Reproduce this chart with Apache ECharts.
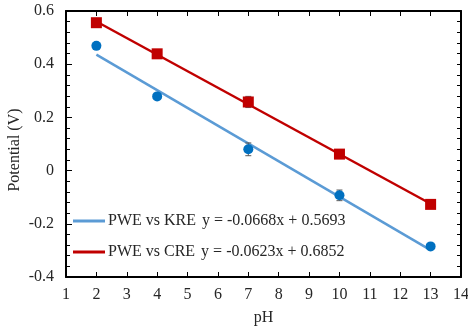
<!DOCTYPE html>
<html><head><meta charset="utf-8">
<script src="https://cdn.jsdelivr.net/npm/echarts@6/dist/echarts.min.js"></script>
<style>html,body{margin:0;padding:0;background:#fff}#c{width:468px;height:335px}</style>
</head><body><div id="c"></div>
<script>
const pH = [2, 4, 7, 10, 13];
const kreValues = [0.469, 0.279, 0.080, -0.093, -0.285];
const kreErrors = [0.005, 0.006, 0.024, 0.020, 0.006];
const creValues = [0.556, 0.439, 0.258, 0.062, -0.127];
const creErrors = [0.006, 0.006, 0.021, 0.008, 0.006];
const seriesNames = ['PWE vs KRE', 'PWE vs CRE'];
const equations = ['y = -0.0668x + 0.5693', 'y = -0.0623x + 0.6852'];
const slopes = [-0.0668, -0.0623];
const intercepts = [0.5693, 0.6852];
const xTicks = [1,2,3,4,5,6,7,8,9,10,11,12,13,14];
const yTicks = [-0.4,-0.2,0,0.2,0.4,0.6];
const yTitle = 'Potential (V)';
const xTitle = 'pH';

const FONT = '"Liberation Serif", "Times New Roman", serif';
const trend = (i) => [pH[0], pH[pH.length-1]].map(x => [x, slopes[i]*x + intercepts[i]]);
const pts = (vals) => pH.map((x,i)=>[x, vals[i]]);
const errData = (vals, errs) => pH.map((x,i)=>[x, vals[i]-errs[i], vals[i]+errs[i]]);

function errRender(params, api){
  const x = api.value(0), lo = api.value(1), hi = api.value(2);
  const p1 = api.coord([x, hi]), p2 = api.coord([x, lo]);
  const w = 3;
  const style = {stroke:'#595959', lineWidth:1};
  return {type:'group', children:[
    {type:'line', shape:{x1:p1[0],y1:p1[1],x2:p2[0],y2:p2[1]}, style},
    {type:'line', shape:{x1:p1[0]-w,y1:p1[1],x2:p1[0]+w,y2:p1[1]}, style},
    {type:'line', shape:{x1:p2[0]-w,y1:p2[1],x2:p2[0]+w,y2:p2[1]}, style}
  ]};
}

const axisLine = {show:true, onZero:false, lineStyle:{color:'#000', width:2}};
const chart = echarts.init(document.getElementById('c'));
chart.setOption({
  animation:false,
  backgroundColor:'#fff',
  grid:{left:66, right:7, top:11, bottom:58, containLabel:false, outerBoundsMode:'none'},
  graphic:[{type:'text', x:15, y:150, rotation:Math.PI/2,
    style:{text:yTitle, font:'16px ' + FONT, fill:'#262626', align:'center', verticalAlign:'middle'}}],
  legend:{
    left:73, top:213, orient:'vertical', itemGap:15, padding:0,
    itemWidth:32, itemHeight:3, icon:'rect',
    data:seriesNames,
    formatter:(name)=> '{n|' + name + '}' + equations[seriesNames.indexOf(name)],
    textStyle:{fontFamily:FONT, fontSize:16, color:'#262626', padding:[0,0,0,-2],
      rich:{n:{fontFamily:FONT, fontSize:16, color:'#262626', padding:[0,6,0,0]}}}
  },
  xAxis:[{
    type:'value', min:1, max:14, interval:1,
    name:xTitle, nameLocation:'middle', nameGap:33,
    nameTextStyle:{fontFamily:FONT, fontSize:16, color:'#262626'},
    axisLine, axisTick:{show:true, inside:true, length:5, lineStyle:{color:'#000', width:1}},
    axisLabel:{fontFamily:FONT, fontSize:16, color:'#262626', margin:10},
    splitLine:{show:false}
  },{
    type:'value', position:'top', min:1, max:14, interval:1,
    axisLine, axisTick:{show:true, inside:true, length:5, lineStyle:{color:'#000'}},
    axisLabel:{show:false}, splitLine:{show:false}
  }],
  yAxis:[{
    type:'value', min:-0.4, max:0.6, interval:0.2,
    axisLine, axisTick:{show:true, inside:true, length:6, lineStyle:{color:'#000'}},
    minorTick:{show:true, splitNumber:5, length:4, lineStyle:{color:'#000'}},
    axisLabel:{fontFamily:FONT, fontSize:16, color:'#262626', margin:12,
      formatter:(v)=>String(Math.round(v*10)/10)},
    splitLine:{show:false}
  },{
    type:'value', position:'right', min:-0.4, max:0.6, interval:0.2,
    axisLine, axisTick:{show:true, inside:true, length:4, lineStyle:{color:'#000'}},
    minorTick:{show:true, splitNumber:5, length:4, lineStyle:{color:'#000'}},
    axisLabel:{show:false}, splitLine:{show:false}
  }],
  series:[
    {name:seriesNames[0], type:'line', data:trend(0), symbol:'none', color:'#5B9BD5',
     lineStyle:{color:'#5B9BD5', width:2.5}, z:2},
    {name:seriesNames[1], type:'line', data:trend(1), symbol:'none', color:'#C00000',
     lineStyle:{color:'#C00000', width:2.5}, z:2},
    {type:'custom', renderItem:errRender, data:errData(kreValues,kreErrors), z:3, encode:{x:0,y:[1,2]}},
    {type:'custom', renderItem:errRender, data:errData(creValues,creErrors), z:3, encode:{x:0,y:[1,2]}},
    {type:'scatter', data:pts(kreValues), symbol:'circle', symbolSize:10,
     itemStyle:{color:'#0070C0', opacity:1}, z:4},
    {type:'scatter', data:pts(creValues), symbol:'rect', symbolSize:11,
     itemStyle:{color:'#C00000', opacity:1}, z:4}
  ]
});
</script></body></html>
